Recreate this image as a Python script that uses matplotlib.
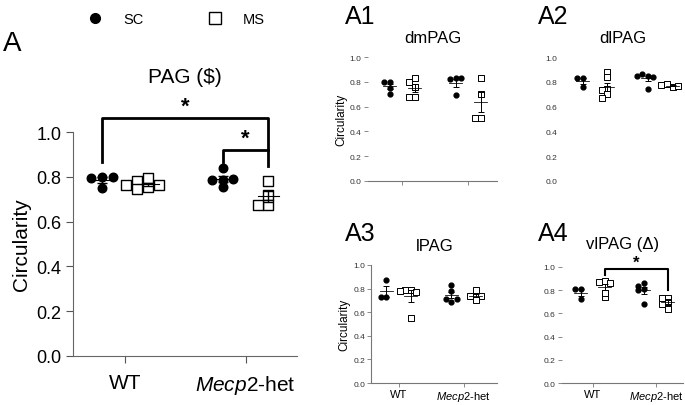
import numpy as np
import matplotlib
matplotlib.use("Agg")
import matplotlib.pyplot as plt
from matplotlib.lines import Line2D

plt.rcParams['font.family'] = ['Liberation Sans', 'DejaVu Sans']
plt.rcParams['mathtext.fontset'] = 'custom'
plt.rcParams['mathtext.it'] = 'Liberation Sans:italic'
plt.rcParams['mathtext.rm'] = 'Liberation Sans'

# genotype groups on the x axis
genotypes = ["WT", "$\\mathit{Mecp2}$-het"]

# circularity values, per region / genotype / housing
pag_sc_wt = [0.80, 0.795, 0.80, 0.75]
pag_ms_wt = [0.755, 0.78, 0.765, 0.765, 0.795, 0.745]
pag_sc_het = [0.84, 0.755, 0.785, 0.785, 0.79]
pag_ms_het = [0.78, 0.72, 0.675, 0.675]

dm_sc_wt = [0.80, 0.80, 0.75, 0.70]
dm_ms_wt = [0.83, 0.80, 0.76, 0.68, 0.68]
dm_sc_het = [0.83, 0.82, 0.83, 0.69]
dm_ms_het = [0.83, 0.70, 0.51, 0.51]

dl_sc_wt = [0.83, 0.83, 0.76]
dl_ms_wt = [0.88, 0.84, 0.74, 0.73, 0.70, 0.67]
dl_sc_het = [0.85, 0.86, 0.84, 0.74, 0.85]
dl_ms_het = [0.76, 0.78, 0.765, 0.775]

l_sc_wt = [0.87, 0.73, 0.73]
l_ms_wt = [0.79, 0.79, 0.775, 0.78, 0.55]
l_sc_het = [0.83, 0.78, 0.69, 0.71, 0.71]
l_ms_het = [0.79, 0.74, 0.74, 0.735, 0.70]

vl_sc_wt = [0.81, 0.81, 0.72]
vl_ms_wt = [0.88, 0.87, 0.86, 0.74, 0.78]
vl_sc_het = [0.865, 0.84, 0.81, 0.68, 0.80]
vl_ms_het = [0.735, 0.735, 0.70, 0.64, 0.68]


def swarm(vals, ythr, xstep):
    # simple beeswarm: push a point sideways if it collides with one already placed
    placed = []
    offs = []
    for v in vals:
        for k in [0, -1, 1, -2, 2, -3, 3]:
            dx = k * xstep
            if all(abs(v - pv) > ythr or abs(dx - pd) > xstep * 0.9 for pv, pd in placed):
                break
        placed.append((v, dx))
        offs.append(dx)
    return np.array(offs)


def draw_group(ax, x, vals, marker, ms, ythr, xstep, barw, lw, cap):
    vals = np.array(vals)
    xs = x + swarm(vals, ythr, xstep)
    if marker == "o":
        ax.scatter(xs, vals, marker="o", s=ms, color="black", zorder=3, clip_on=False)
    else:
        ax.scatter(xs, vals, marker="s", s=ms, facecolor="white", edgecolor="black",
                   linewidths=lw, zorder=3, clip_on=False)
    m = vals.mean()
    sem = vals.std(ddof=1) / np.sqrt(len(vals))
    ax.plot([x - barw, x + barw], [m, m], color="black", lw=lw * 0.8, zorder=4)
    ax.errorbar([x], [m], yerr=[sem], color="black", capsize=cap, elinewidth=lw,
                capthick=lw, zorder=4, fmt="none")


def draw_panel(ax, sc_wt, ms_wt, sc_het, ms_het, small=True):
    off = 0.19
    if small:
        ms_c, ms_s, thr, step, bw, lw, cap = 12, 14, 0.03, 0.085, 0.1, 0.7, 2.5
    else:
        ms_c, ms_s, thr, step, bw, lw, cap = 38, 45, 0.03, 0.09, 0.09, 1.0, 3.5
    draw_group(ax, 0 - off, sc_wt, "o", ms_c, thr, step, bw, lw, cap)
    draw_group(ax, 0 + off, ms_wt, "s", ms_s, thr, step, bw, lw, cap)
    draw_group(ax, 1 - off, sc_het, "o", ms_c, thr, step, bw, lw, cap)
    draw_group(ax, 1 + off, ms_het, "s", ms_s, thr, step, bw, lw, cap)
    ax.set_ylim(0, 1.0)
    ax.set_yticks([0, 0.2, 0.4, 0.6, 0.8, 1.0])
    ax.set_yticklabels(["0.0", "0.2", "0.4", "0.6", "0.8", "1.0"])
    ax.set_xticks([0, 1])
    for s in ["top", "right"]:
        ax.spines[s].set_visible(False)


fig = plt.figure(figsize=(6.85, 4.06), dpi=100)

# main panel A
ax = fig.add_axes([0.107, 0.121, 0.327, 0.551])
draw_panel(ax, pag_sc_wt, pag_ms_wt, pag_sc_het, pag_ms_het, small=False)
ax.set_xlim(-0.43, 1.43)
ax.set_xticklabels(genotypes, fontsize=15)
ax.tick_params(axis="y", labelsize=13, length=5, width=0.8, colors="#555555", labelcolor="black")
ax.tick_params(axis="x", length=5, width=0.8, colors="#555555", labelcolor="black", pad=7)
ax.spines["left"].set_color("#666666")
ax.spines["bottom"].set_color("#666666")
ax.set_ylabel("Circularity", fontsize=15, labelpad=4)
ax.set_title("PAG ($)", fontsize=15, pad=36)
# significance brackets
ax.plot([-0.19, -0.19, 1.19, 1.19], [0.865, 1.065, 1.065, 0.85], color="black", lw=2, clip_on=False)
ax.plot([0.81, 0.81, 1.19], [0.865, 0.92, 0.92], color="black", lw=2, clip_on=False)
ax.text(0.5, 1.07, "*", fontsize=16, fontweight="bold", ha="center", va="bottom")
ax.text(1.0, 0.925, "*", fontsize=16, fontweight="bold", ha="center", va="bottom")
fig.text(0.004, 0.874, "A", fontsize=20, va="baseline")

# legend at top
handles = [Line2D([], [], marker="o", color="black", ls="none", markersize=7),
           Line2D([], [], marker="s", markerfacecolor="white", markeredgecolor="black",
                  ls="none", markersize=8)]
fig.legend(handles, ["SC", "MS"], ncol=2, loc="center", bbox_to_anchor=(0.252, 0.951),
           frameon=False, fontsize=10.5, handletextpad=0.9, columnspacing=3.9)

small_tick = dict(labelsize=6, length=3, width=0.6, colors="#777777", labelcolor="#333333", pad=1.5)

# A1 dmPAG
a1 = fig.add_axes([0.537, 0.552, 0.189, 0.305])
draw_panel(a1, dm_sc_wt, dm_ms_wt, dm_sc_het, dm_ms_het)
a1.set_xlim(-0.52, 1.44)
a1.spines["left"].set_visible(False)
a1.spines["bottom"].set_color("#777777")
a1.set_xticklabels([])
a1.tick_params(**small_tick)
a1.set_ylabel("Circularity", fontsize=8.5, labelpad=2)
a1.set_title("dmPAG", fontsize=12, pad=11)
fig.text(0.503, 0.941, "A1", fontsize=18, va="baseline")

# A2 dlPAG
a2 = fig.add_axes([0.822, 0.552, 0.175, 0.305])
draw_panel(a2, dl_sc_wt, dl_ms_wt, dl_sc_het, dl_ms_het)
a2.set_xlim(-0.49, 1.35)
a2.spines["left"].set_visible(False)
a2.spines["bottom"].set_visible(False)
a2.set_xticks([])
a2.tick_params(axis="y", **dict(small_tick, length=0, pad=4))
a2.set_title("dlPAG", fontsize=12, pad=11)
fig.text(0.785, 0.941, "A2", fontsize=18, va="baseline")

# A3 lPAG
a3 = fig.add_axes([0.542, 0.054, 0.184, 0.291])
draw_panel(a3, l_sc_wt, l_ms_wt, l_sc_het, l_ms_het)
a3.set_xlim(-0.42, 1.52)
a3.spines["left"].set_color("#777777")
a3.spines["bottom"].set_color("#777777")
a3.set_xticklabels(genotypes)
a3.tick_params(**small_tick)
a3.tick_params(axis="x", labelsize=8, labelcolor="black")
a3.set_ylabel("Circularity", fontsize=8.5, labelpad=2)
a3.set_title("lPAG", fontsize=12, pad=11)
fig.text(0.503, 0.406, "A3", fontsize=18, va="baseline")

# A4 vlPAG
a4 = fig.add_axes([0.820, 0.054, 0.177, 0.286])
draw_panel(a4, vl_sc_wt, vl_ms_wt, vl_sc_het, vl_ms_het)
a4.set_xlim(-0.49, 1.43)
a4.spines["left"].set_visible(False)
a4.spines["bottom"].set_color("#777777")
a4.set_xticklabels(genotypes)
a4.tick_params(**small_tick)
a4.tick_params(axis="x", labelsize=8, labelcolor="black")
a4.set_title("vlPAG (\u0394)", fontsize=12, pad=14)
a4.plot([0.19, 0.19, 1.19, 1.19], [0.93, 0.98, 0.98, 0.80], color="black", lw=1.5, clip_on=False)
a4.text(0.69, 0.975, "*", fontsize=12, fontweight="bold", ha="center", va="bottom")
fig.text(0.785, 0.406, "A4", fontsize=18, va="baseline")

fig.savefig("out.png", dpi=100)
